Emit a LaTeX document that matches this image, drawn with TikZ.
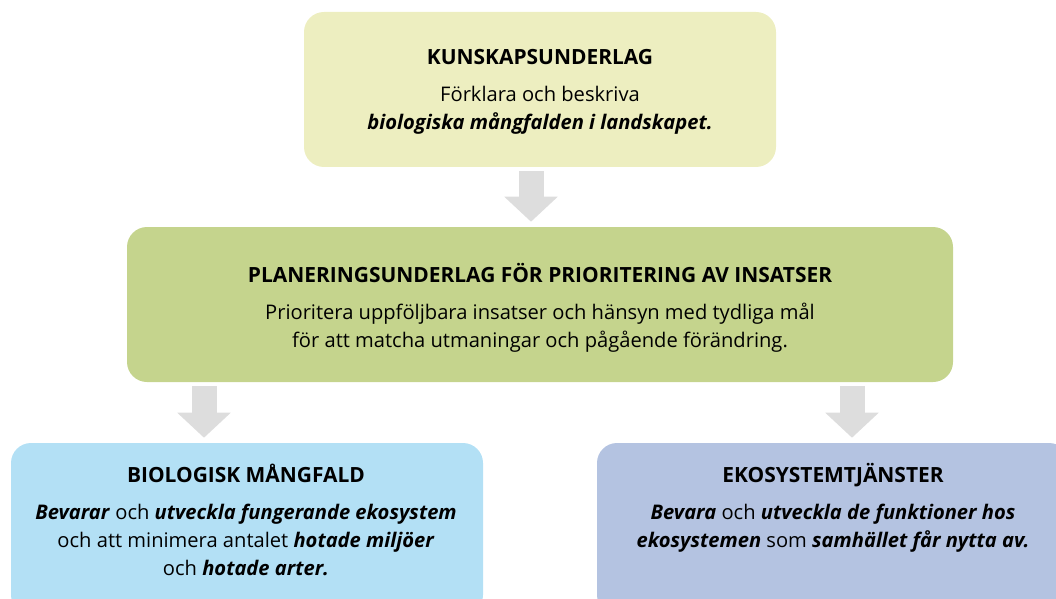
\documentclass[tikz,border=0pt]{standalone}
\usepackage{fontspec}
\setmainfont{Open Sans}
\definecolor{kunfill}{RGB}{237,238,192}
\definecolor{planfill}{RGB}{197,212,141}
\definecolor{biofill}{RGB}{179,224,245}
\definecolor{ekofill}{RGB}{180,195,225}
\definecolor{arrowgray}{RGB}{221,221,221}
\usetikzlibrary{arrows.meta}
\newcommand{\bi}[1]{\textbf{\textit{#1}}}
\newcommand{\boxtitle}[1]{{\fontsize{15.7pt}{21pt}\selectfont\textbf{#1}}}
\tikzset{
    box/.style={rectangle, rounded corners=15pt, draw=none, inner sep=0pt},
    txt/.style={align=center, anchor=base, inner sep=0pt,
        font=\fontsize{15.1pt}{21pt}\selectfont},
    bigarrow/.style={draw=arrowgray, line width=18.75pt,
        -{Triangle[width=39pt, length=18.75pt]},
        shorten <=3pt, shorten >=3.75pt}
}
\begin{document}
\begin{tikzpicture}[x=0.75pt, y=-0.75pt]

    % Page frame, bottom boxes run off the edge
    \useasboundingbox (0,0) rectangle (1056,599);
    \clip (0,0) rectangle (1056,599);

    % Boxes
    \node[box, fill=kunfill, minimum width=354pt, minimum height=116.25pt] (kun) at (540,89.5) {};
    \node[box, fill=planfill, minimum width=619.5pt, minimum height=116.25pt] (plan) at (540,304.5) {};
    \node[box, fill=biofill, minimum width=354pt, minimum height=129pt] (bio) at (247,529) {};
    \node[box, fill=ekofill, minimum width=354pt, minimum height=129pt] (eko) at (833,529) {};

    % Texts (placed by the baseline of their last line)
    \node[txt] (kuntxt) at (540,130) {\boxtitle{KUNSKAPSUNDERLAG}\\[6.75pt]
        Förklara och beskriva\\
        \bi{biologiska mångfalden i landskapet.}};
    \node[txt] (plantxt) at (540,347) {\boxtitle{PLANERINGSUNDERLAG FÖR PRIORITERING AV INSATSER}\\[6.75pt]
        Prioritera uppföljbara insatser och hänsyn med tydliga mål\\
        för att matcha utmaningar och pågående förändring.};
    \node[txt] (biotxt) at (246,575) {\boxtitle{BIOLOGISK MÅNGFALD}\\[6.75pt]
        \bi{Bevarar} och \bi{utveckla fungerande ekosystem}\\
        och att minimera antalet \bi{hotade miljöer}\\
        och \bi{hotade arter.}};
    \node[txt] (ekotxt) at (833,547) {\boxtitle{EKOSYSTEMTJÄNSTER}\\[6.75pt]
        \bi{Bevara} och \bi{utveckla de funktioner hos}\\
        \bi{ekosystemen} som \bi{samhället får nytta av.}};

    % Arrows between the boxes
    \foreach \from/\to/\x in {kun/plan/531, plan/bio/204, plan/eko/852} {
        \coordinate (ax) at (\x,0);
        \draw[bigarrow] (\from.south -| ax) -- (\to.north -| ax);
    }
\end{tikzpicture}
\end{document}
